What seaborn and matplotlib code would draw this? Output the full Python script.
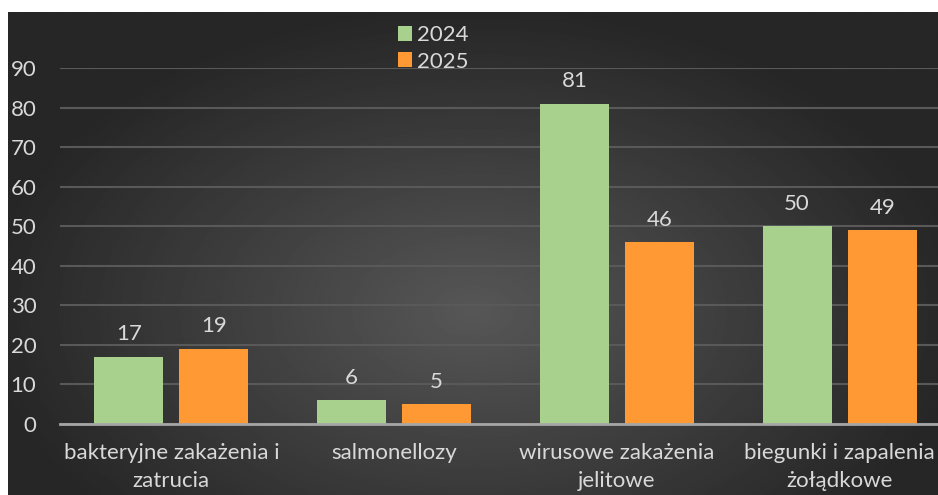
import numpy as np
import pandas as pd
import matplotlib
matplotlib.use("Agg")
import matplotlib.pyplot as plt
import seaborn as sns

# data
categories = ["bakteryjne zakażenia i\nzatrucia", "salmonellozy",
              "wirusowe zakażenia\njelitowe", "biegunki i zapalenia\nżołądkowe"]
years = ["2024", "2025"]
vals_2024 = [17, 6, 81, 50]
vals_2025 = [19, 5, 46, 49]

df = pd.DataFrame({
    "kategoria": categories * 2,
    "rok": [years[0]] * 4 + [years[1]] * 4,
    "liczba": vals_2024 + vals_2025,
})

sns.set_theme(style="dark")
plt.rcParams["font.family"] = ["Lato", "DejaVu Sans"]
txt = "#d9d9d9"

fig = plt.figure(figsize=(9.38, 4.95), dpi=100, facecolor="white")

# dark gradient background
bg = fig.add_axes([8 / 938, 0, 1 - 8 / 938, 1 - 12 / 495])
yy, xx = np.mgrid[0:1:300j, 0:1:600j]
r = np.sqrt(((xx - 0.5) / 0.75) ** 2 + ((yy - 0.62) / 0.9) ** 2)
shade = np.clip(0.34 - 0.27 * r, 0.15, 0.34)
bg.imshow(shade, cmap="gray", vmin=0, vmax=1, aspect="auto",
          extent=[0, 1, 0, 1], origin="upper", interpolation="bilinear")
bg.set_axis_off()

ax = fig.add_axes([60 / 938, 1 - 424 / 495, 891 / 938, (424 - 68) / 495])
ax.set_facecolor("none")

sns.barplot(data=df, x="kategoria", y="liczba", hue="rok",
            palette=["#a9d18e", "#ff9933"], saturation=1,
            width=0.764, gap=0.19, linewidth=0, edgecolor="none",
            ax=ax, zorder=3)

for c in ax.containers:
    ax.bar_label(c, padding=9, color=txt, fontsize=16)

ax.set_ylim(0, 90)
ax.set_yticks(range(0, 100, 10))
ax.set_xlabel("")
ax.set_ylabel("")
ax.grid(axis="y", color="#595959", linewidth=1.5, zorder=0)
ax.grid(axis="x", visible=False)
for s in ["top", "right", "left"]:
    ax.spines[s].set_visible(False)
ax.spines["bottom"].set_color("#a6a6a6")
ax.spines["bottom"].set_linewidth(2)
ax.spines["bottom"].set_zorder(4)
ax.tick_params(axis="y", colors=txt, labelsize=16, length=0, pad=17)
ax.tick_params(axis="x", colors=txt, labelsize=16, length=0, pad=14)
for lbl in ax.get_xticklabels():
    lbl.set_linespacing(1.45)

leg = ax.legend(loc="upper left", bbox_to_anchor=((389 - 60) / 891, 1 + 52 / 356),
                frameon=False, fontsize=16, labelcolor=txt,
                handlelength=0.65, handleheight=0.65, handletextpad=0.2,
                labelspacing=0.3, borderaxespad=0)
for h in leg.legend_handles:
    h.set_edgecolor("none")

fig.savefig("out.png", dpi=100, facecolor="white")
